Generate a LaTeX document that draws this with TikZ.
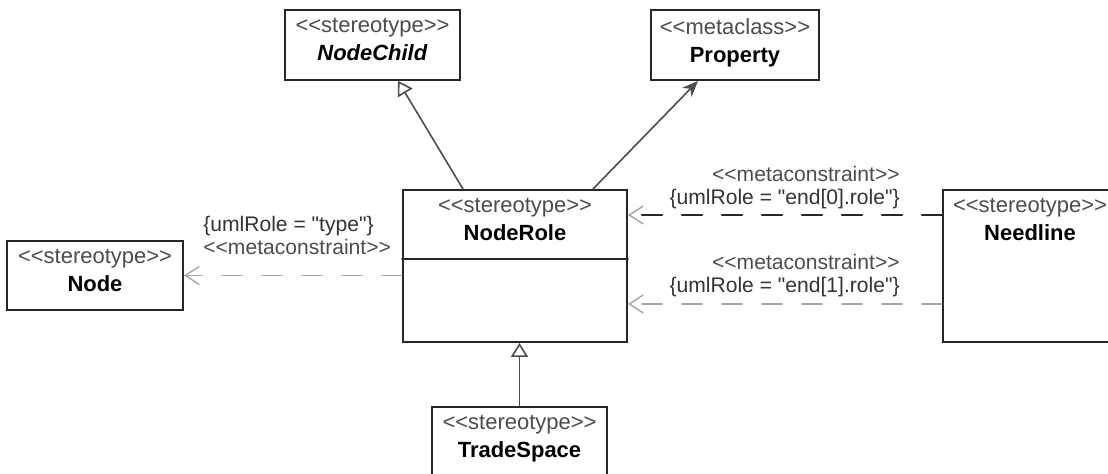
\documentclass[tikz,border=0pt]{standalone}
\usepackage{fontspec}
\setmainfont{Liberation Sans}[Ligatures=TeXOff]
\usepackage{tikz}
\usetikzlibrary{arrows.meta,positioning}
\newcommand{\stereo}[1]{\textcolor{black!70}{<{}<#1>{}>}}

\begin{document}
\begin{tikzpicture}[font=\fontsize{12}{13}\selectfont,line cap=round,
  box/.style={draw=black!85,line width=1.1pt,inner sep=0pt,fill=white},
  boxtext/.style={align=center,inner sep=0pt,font=\fontsize{12.5}{16}\selectfont},
  gen/.style={gray!60!black,line width=0.9pt,-{Triangle[open,length=0.28cm,width=0.34cm,fill=white]}},
  assoc/.style={gray!60!black,line width=0.9pt,-{Stealth[length=0.32cm,width=0.26cm]}},
  dep/.style={gray!70,line width=0.8pt,dash pattern=on 0.4cm off 0.4cm,
    -{Straight Barb[length=0.28cm,width=0.36cm,line width=0.8pt,color=gray!70]}},
  lbl/.style={inner sep=0pt,text=black!80}]
\useasboundingbox (0,0) rectangle (22.16,9.48);
\clip (0,0) rectangle (22.16,9.48);
% classes
\node[box,minimum width=3.5cm,minimum height=1.4cm] (nodechild) at (7.45,8.58) {};
\node[boxtext,below=0.18cm of nodechild.north] (nodechildtxt) {\stereo{stereotype}\\\textbf{\textit{NodeChild}}};
\node[box,minimum width=3.36cm,minimum height=1.4cm] (property) at (14.70,8.58) {};
\node[boxtext,below=0.18cm of property.north] (propertytxt) {\stereo{metaclass}\\\textbf{Property}};
\node[box,minimum width=4.48cm,minimum height=3.04cm] (noderole) at (10.30,4.16) {};
\node[boxtext,below=0.18cm of noderole.north] (noderoletxt) {\stereo{stereotype}\\\textbf{NodeRole}};
\draw[black!85,line width=1.1pt] (noderole.west |- 0,4.30) -- (noderole.east |- 0,4.30);
\node[box,minimum width=3.48cm,minimum height=3.04cm] (needline) at (20.60,4.16) {};
\node[boxtext,below=0.18cm of needline.north] (needlinetxt) {\stereo{stereotype}\\\textbf{Needline}};
\node[box,minimum width=3.52cm,minimum height=1.38cm] (node) at (1.90,3.97) {};
\node[boxtext,below=0.18cm of node.north] (nodetxt) {\stereo{stereotype}\\\textbf{Node}};
\node[box,minimum width=3.5cm,minimum height=1.4cm] (tradespace) at (10.39,0.64) {};
\node[boxtext,below=0.18cm of tradespace.north] (tradespacetxt) {\stereo{stereotype}\\\textbf{TradeSpace}};
% relations
\draw[gen] ([xshift=-1.04cm]noderole.north) -- ([xshift=0.51cm]nodechild.south);
\draw[assoc] ([xshift=1.56cm]noderole.north) -- ([xshift=-0.74cm]property.south);
\draw[gen] (tradespace.north) -- (tradespace.north |- noderole.south);
\draw[dep] (node.east -| noderole.west) -- (node.east);
\draw[dep,black!85,line width=1.5pt] ([yshift=1.02cm]needline.west) -- ([yshift=1.02cm]needline.west -| noderole.east);
\draw[dep] ([yshift=-0.76cm]needline.west) -- ([yshift=-0.76cm]needline.west -| noderole.east);
% constraint labels
\node[lbl,align=left,anchor=north west] (typelbl) at (4.06,5.16) {\{umlRole = "type"\}\\\stereo{metaconstraint}};
\node[lbl,align=right,anchor=north east] (end0lbl) at (18.0,6.16) {\stereo{metaconstraint}\\\{umlRole = "end[0].role"\}};
\node[lbl,align=right,anchor=north east] (end1lbl) at (18.0,4.40) {\stereo{metaconstraint}\\\{umlRole = "end[1].role"\}};
\end{tikzpicture}
\end{document}
